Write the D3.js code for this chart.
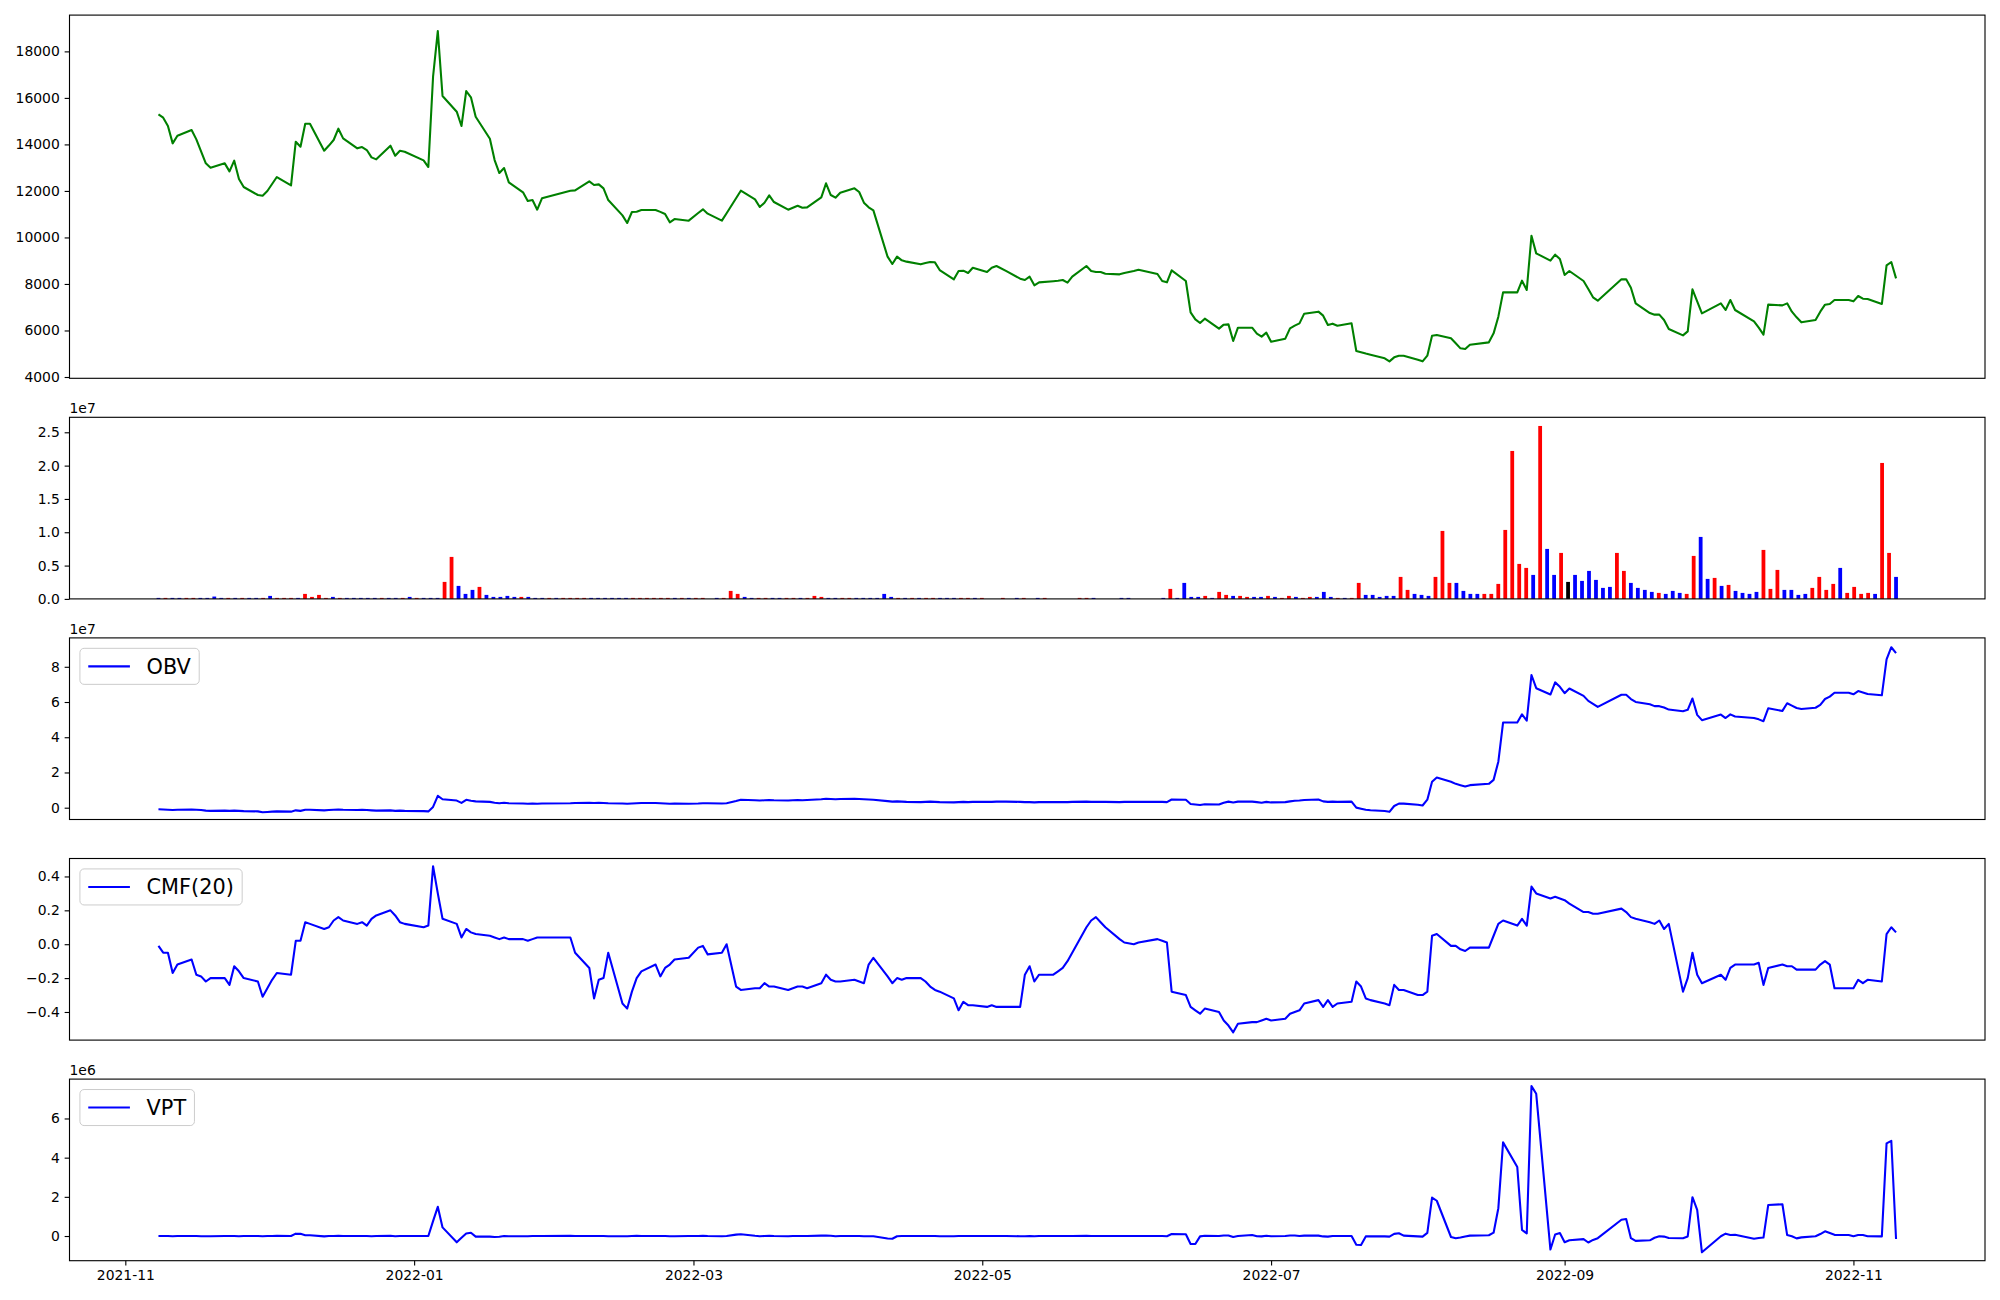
<!DOCTYPE html>
<html><head><meta charset="utf-8">
<script src="https://cdn.jsdelivr.net/npm/d3@7"></script>
<style>
body{margin:0;background:#fff}
svg{display:block}
text{font-family:"DejaVu Sans",sans-serif}
</style>
</head><body>
<svg id="chart" width="2000" height="1300"></svg>
<script>
// ---------------- DATA ----------------
const tradingStart = "2021-11-08";
const tradingEnd = "2022-11-10";
const holidays = ["2021-12-31","2022-01-31","2022-02-01","2022-02-02","2022-03-01","2022-03-09",
  "2022-05-05","2022-06-01","2022-06-06","2022-08-15","2022-09-09","2022-09-12","2022-10-03","2022-10-10"];

const xTickLabels = ["2021-11","2022-01","2022-03","2022-05","2022-07","2022-09","2022-11"];
const priceTicks = [4000,6000,8000,10000,12000,14000,16000,18000];
const volumeTicks = [0,0.5e7,1.0e7,1.5e7,2.0e7,2.5e7];
const obvTicks = [0,2e7,4e7,6e7,8e7];
const cmfTicks = [-0.4,-0.2,0.0,0.2,0.4];
const vptTicks = [0,2e6,4e6,6e6];

const close = [15292,15150,14790,14045,14375,14619,14217,13700,13186,12999,
13186,12842,13300,12512,12168,11824,11796,11996,12300,12598,
12240,14117,13902,14891,14891,13730,13950,14189,14676,14260,
13830,13888,13759,13443,13357,13945,13515,13730,13687,13314,
13028,16911,18874,16080,15407,14790,16295,16023,15192,14246,
13329,12770,12985,12369,11939,11566,11609,11194,11681,12010,
12025,12412,12254,12283,12111,11609,10950,10620,11093,11108,
11179,11179,11100,11007,10649,10792,10721,11050,11208,11022,
10721,11043,11688,12010,11637,11308,11494,11809,11523,11193,
11280,11366,11280,11294,11724,12326,11824,11709,11924,12111,
11953,11494,11294,11165,9173,8858,9173,9016,8960,8844,
8900,8944,8930,8600,8199,8557,8571,8471,8700,8514,
8700,8772,8560,8227,8170,8313,7941,8070,8120,8140,
8170,8056,8313,8772,8557,8514,8514,8442,8414,8470,
8560,8614,8428,8127,8070,8586,8127,6780,6479,6321,
6508,6078,6250,6264,5548,6121,6121,5863,5734,5906,
5519,5648,6092,6207,6307,6723,6809,6637,6235,6293,
6207,6307,5118,5065,5010,4960,4802,4673,4845,4917,
4917,4740,4673,4917,5777,5806,5662,5450,5232,5204,
5390,5490,5877,6594,7640,7640,8141,7740,10076,9316,
9001,9259,9073,8385,8557,8127,7780,7425,7282,8199,
8199,7840,7167,6750,6680,6680,6450,6064,5791,5963,
7769,7250,6737,7167,6880,7310,6880,6393,6121,5820,
7110,7081,7167,6809,6565,6350,6450,6809,7110,7138,
7310,7310,7253,7482,7368,7353,7138,8800,8944,8242];

const volume = [1.5e5,1.5e5,1.5e5,1.5e5,1.5e5,1.5e5,1.5e5,1.5e5,3.5e5,1.5e5,
1.5e5,1.5e5,1.5e5,1.5e5,1.5e5,1.5e5,4.5e5,1.5e5,1.5e5,1.5e5,
1.5e5,7.5e5,3e5,6e5,1.5e5,3e5,1.5e5,1.5e5,1.5e5,1.5e5,
1.5e5,1.5e5,1.5e5,1.5e5,1.5e5,1.5e5,3e5,1.5e5,1.5e5,1.5e5,
1.5e5,2.55e6,6.3e6,1.95e6,7.5e5,1.35e6,1.8e6,6e5,3e5,3e5,
4.5e5,3e5,3e5,3e5,1.5e5,1.5e5,1.5e5,1.5e5,1.5e5,1.5e5,
1.5e5,1.5e5,1.5e5,1.5e5,1.5e5,1.5e5,1.5e5,1.5e5,1.5e5,1.5e5,
1.5e5,1.5e5,1.5e5,1.5e5,1.5e5,1.5e5,1.5e5,1.5e5,1.5e5,0,
1.5e5,1.5e5,1.2e6,7.5e5,3e5,1.5e5,1.5e5,1.5e5,1.5e5,1.5e5,
1.5e5,1.5e5,1.5e5,1.5e5,4.5e5,3e5,1.5e5,1.5e5,1.5e5,1.5e5,
1.5e5,1.5e5,1.5e5,1.5e5,7.5e5,3e5,1.5e5,1.5e5,1.5e5,1.5e5,
1.5e5,1.5e5,1.5e5,1.5e5,1.5e5,1.5e5,1.5e5,1.5e5,1.5e5,0,
0,1.5e5,0,1.5e5,1.5e5,0,1.5e5,1.5e5,0,0,
0,0,1.5e5,1.5e5,1.5e5,0,0,0,1.5e5,1.5e5,
0,0,0,0,1.5e5,1.5e6,1.5e5,2.4e6,3e5,3e5,
4.5e5,1.5e5,1.05e6,6e5,4.5e5,4.5e5,3e5,3e5,3e5,4.5e5,
3e5,1.5e5,4.5e5,3e5,1.5e5,3e5,3e5,1.05e6,3e5,1.5e5,
1.5e5,1.5e5,2.4e6,6e5,6e5,3e5,4.5e5,4.5e5,3.3e6,1.35e6,
7.5e5,6e5,4.5e5,3.3e6,1.02e7,2.4e6,2.4e6,1.2e6,7.5e5,7.5e5,
7.5e5,7.5e5,2.25e6,1.035e7,2.22e7,5.25e6,4.65e6,3.6e6,2.595e7,7.5e6,
3.6e6,6.9e6,2.55e6,3.6e6,2.7e6,4.2e6,2.85e6,1.65e6,1.8e6,6.9e6,
4.2e6,2.4e6,1.65e6,1.35e6,1.05e6,9e5,7.5e5,1.2e6,9e5,7.5e5,
6.45e6,9.3e6,3e6,3.15e6,1.95e6,2.1e6,1.2e6,9e5,7.5e5,1.05e6,
7.35e6,1.5e6,4.35e6,1.35e6,1.35e6,6e5,7.5e5,1.65e6,3.3e6,1.35e6,
2.25e6,4.65e6,9e5,1.8e6,7.5e5,9e5,7.5e5,2.04e7,6.9e6,3.3e6];

// bar colour per day: r = red, b = blue, k = black
const barColorCodes =
 "brbbrrbbbb"+"rbrbbrbrrr"+"brrrrbrbbb"+"bbrbbrbrbb"+"brrbbbrbbb"+
 "bbrbbbrbrr"+"rrbbbbbbrr"+"rrrrbrbrrb"+"brrrbbrrbb"+"rrbrrrbbrr"+
 "bbbbbbrbrb"+"rrbbbrrbrb"+"brbbrbbrbb"+"bbrrbbbbbb"+"bbbbbrbbbb"+
 "rbrrbrrbbr"+"brrbrrbbbr"+"brrbbbbbrr"+"bbbrrrbbbb"+"rrrrrrrbrb"+
 "brkbbbbbbr"+"rbbbbrbbbr"+"rbbrbrbbbb"+"rrrbbbbrrr"+"rbrrrrbrrb";

const obv = [-0.085,-0.1,-0.115,-0.13,-0.115,-0.1,-0.115,-0.13,-0.165,-0.18,
-0.165,-0.18,-0.165,-0.18,-0.195,-0.21,-0.255,-0.24,-0.225,-0.21,
-0.225,-0.15,-0.18,-0.12,-0.12,-0.15,-0.135,-0.12,-0.105,-0.12,
-0.135,-0.12,-0.135,-0.15,-0.165,-0.15,-0.18,-0.165,-0.18,-0.195,
-0.21,0.045,0.675,0.48,0.405,0.27,0.45,0.39,0.36,0.33,
0.285,0.255,0.285,0.255,0.24,0.225,0.24,0.225,0.24,0.255,
0.27,0.285,0.27,0.285,0.27,0.255,0.24,0.225,0.24,0.255,
0.27,0.27,0.255,0.24,0.225,0.24,0.225,0.24,0.255,0.255,
0.24,0.255,0.375,0.45,0.42,0.405,0.42,0.435,0.42,0.405,
0.42,0.435,0.42,0.435,0.48,0.51,0.495,0.48,0.495,0.51,
0.495,0.48,0.465,0.45,0.375,0.345,0.36,0.345,0.33,0.315,
0.33,0.345,0.33,0.315,0.30,0.315,0.33,0.315,0.33,0.33,
0.33,0.345,0.345,0.33,0.315,0.315,0.30,0.315,0.315,0.315,
0.315,0.315,0.33,0.345,0.33,0.33,0.33,0.33,0.315,0.33,
0.33,0.33,0.33,0.33,0.315,0.465,0.45,0.21,0.18,0.15,
0.195,0.18,0.285,0.345,0.30,0.345,0.345,0.315,0.285,0.33,
0.30,0.315,0.36,0.39,0.405,0.435,0.465,0.36,0.33,0.345,
0.33,0.345,0.005,-0.055,-0.115,-0.145,-0.19,-0.235,0.095,0.23,
0.23,0.17,0.125,0.455,1.475,1.715,1.475,1.355,1.28,1.205,
1.28,1.355,1.58,2.615,4.835,4.835,5.30,4.94,7.535,6.785,
6.425,7.115,6.86,6.50,6.77,6.35,6.065,5.90,5.72,6.41,
6.41,6.17,6.005,5.87,5.765,5.765,5.69,5.57,5.48,5.555,
6.20,5.27,4.97,5.285,5.09,5.30,5.18,5.09,5.015,4.91,
5.645,5.495,5.93,5.795,5.66,5.60,5.675,5.84,6.17,6.305,
6.53,6.53,6.44,6.62,6.545,6.455,6.38,8.42,9.11,8.78]; // x 1e7

const cmf = [-0.01,-0.05,-0.05,-0.17,-0.12,-0.09,-0.18,-0.19,-0.22,-0.20,
-0.20,-0.24,-0.13,-0.16,-0.20,-0.22,-0.31,-0.26,-0.21,-0.17,
-0.18,0.02,0.02,0.13,0.12,0.09,0.10,0.14,0.16,0.14,
0.12,0.13,0.11,0.15,0.17,0.20,0.17,0.13,0.12,0.10,
0.11,0.46,0.30,0.15,0.12,0.04,0.09,0.07,0.06,0.05,
0.04,0.03,0.04,0.03,0.03,0.02,0.03,0.04,0.04,0.04,
-0.05,-0.14,-0.32,-0.21,-0.20,-0.05,-0.35,-0.38,-0.28,-0.20,
-0.16,-0.12,-0.19,-0.14,-0.12,-0.09,-0.08,-0.02,-0.01,-0.06,
-0.05,0.00,-0.25,-0.27,-0.26,-0.26,-0.23,-0.25,-0.25,-0.27,
-0.26,-0.25,-0.25,-0.26,-0.23,-0.18,-0.21,-0.22,-0.22,-0.21,
-0.22,-0.23,-0.12,-0.08,-0.19,-0.23,-0.20,-0.21,-0.20,-0.20,
-0.22,-0.25,-0.27,-0.28,-0.32,-0.39,-0.34,-0.36,-0.36,-0.37,
-0.36,-0.37,-0.37,-0.37,-0.18,-0.13,-0.22,-0.18,-0.18,-0.16,
-0.14,-0.10,-0.05,0.10,0.14,0.16,0.13,0.10,0.03,0.01,
0.00,0.01,0.03,0.02,0.01,-0.28,-0.30,-0.37,-0.39,-0.41,
-0.38,-0.40,-0.45,-0.48,-0.52,-0.47,-0.46,-0.46,-0.45,-0.44,
-0.45,-0.44,-0.41,-0.40,-0.39,-0.35,-0.33,-0.37,-0.33,-0.37,
-0.35,-0.34,-0.22,-0.25,-0.32,-0.33,-0.35,-0.36,-0.24,-0.27,
-0.27,-0.30,-0.30,-0.28,0.05,0.06,-0.01,-0.01,-0.03,-0.04,
-0.02,-0.02,0.05,0.12,0.14,0.11,0.15,0.11,0.34,0.30,
0.27,0.28,0.27,0.26,0.24,0.19,0.19,0.18,0.18,0.21,
0.19,0.16,0.15,0.13,0.12,0.14,0.09,0.12,-0.28,-0.20,
-0.05,-0.18,-0.23,-0.18,-0.21,-0.14,-0.12,-0.12,-0.11,-0.24,
-0.14,-0.12,-0.13,-0.13,-0.15,-0.15,-0.15,-0.12,-0.10,-0.12,
-0.26,-0.26,-0.26,-0.21,-0.23,-0.21,-0.22,0.06,0.10,0.07];

const vpt = [0,0,0,-0.01,0,0,0,-0.01,-0.01,-0.01,
0,0,0,-0.01,0,0,-0.01,0,0,0.01,
0,0.12,0.11,0.04,0.04,-0.02,0,0,0.01,0,
0,0,0,-0.01,0,0.01,-0.01,0,0,0,
0,0.76,1.49,0.44,-0.32,-0.09,0.13,0.17,-0.03,-0.03,
-0.05,-0.04,0,-0.01,-0.01,-0.01,0,0,0,0.01,
0,0,0,0,0,-0.01,-0.01,-0.01,0,0.01,
0,0,0,0,-0.01,-0.01,0,0,0.01,0,
-0.01,0,0.07,0.09,0.01,-0.01,0,0.01,0,-0.01,
0,0,0,0,0.02,0.03,0.01,-0.01,0,0,
0,-0.01,-0.01,-0.01,-0.13,-0.14,-0.01,0,0,0,
0,0,0,-0.01,-0.01,0,0,0,0,0,
0,0,0,-0.01,-0.01,0,-0.01,0,0,0,
0,0,0,0.01,0,0,0,0,0,0,
0,0,0,0,-0.01,0.10,0.09,-0.41,-0.41,-0.02,
0.01,0,0.03,0.03,-0.05,0,0.05,-0.01,-0.02,0.01,
-0.01,0,0.03,0.03,0,0.02,0.02,-0.02,-0.03,0,
0,0,-0.45,-0.46,-0.02,-0.01,-0.02,-0.03,0.11,0.14,
0.02,-0.02,-0.03,0.16,1.96,1.80,-0.05,-0.11,-0.08,-0.03,
0.02,0.04,0.17,1.42,4.78,3.52,0.31,0.13,7.65,7.26,
-0.69,0.08,0.15,-0.32,-0.22,-0.16,-0.33,-0.20,-0.11,0.83,
0.87,-0.11,-0.25,-0.22,-0.09,-0.01,-0.03,-0.10,-0.11,-0.02,
1.98,1.33,-0.83,-0.01,0.12,0.05,0.06,-0.14,-0.10,-0.08,
1.58,1.62,0.05,-0.01,-0.12,-0.07,-0.01,0.10,0.24,0.15,
0.06,0.05,-0.01,0.05,0.05,-0.01,-0.02,4.73,4.86,-0.15]; // x 1e6

// ---------------- DATES ----------------
const DAY = 864e5;
const holSet = new Set(holidays);
const dates = [];
for (let t = Date.parse(tradingStart + "T00:00:00Z"); t <= Date.parse(tradingEnd + "T00:00:00Z"); t += DAY) {
  const d = new Date(t), wd = d.getUTCDay();
  if (wd === 0 || wd === 6) continue;
  if (holSet.has(d.toISOString().slice(0, 10))) continue;
  dates.push(d);
}
const N = close.length;
const t0 = +dates[0], tN = +dates[N - 1];
const barTimes = volume.map((v, i) => t0 + i * (tN - t0) / (N - 1));

// ---------------- LAYOUT ----------------
const L = 69.5, R = 1985;
const panels = [[15.1, 378.3], [417.3, 598.9], [637.9, 819.5], [858.5, 1040.1], [1079.1, 1260.7]];
const PT = 100 / 72;
const svg = d3.select("#chart");

const lo = t0 - 0.4 * DAY, hi = tN + 0.4 * DAY, pad = 0.05 * (hi - lo);
const x = d3.scaleUtc().domain([new Date(lo - pad), new Date(hi + pad)]).range([L, R]);

const yP = d3.scaleLinear().domain([3944, 19560]).range([panels[0][1], panels[0][0]]);
const yV = d3.scaleLinear().domain([0, 2.725e7]).range([panels[1][1], panels[1][0]]);
const yO = d3.scaleLinear().domain([-0.67e7, 9.64e7]).range([panels[2][1], panels[2][0]]);
const yC = d3.scaleLinear().domain([-0.566, 0.506]).range([panels[3][1], panels[3][0]]);
const yT = d3.scaleLinear().domain([-1.26e6, 8.01e6]).range([panels[4][1], panels[4][0]]);

function yAxis(scale, ticks, fmt) {
  const g = svg.append("g").attr("transform", `translate(${L},0)`)
    .call(d3.axisLeft(scale).tickValues(ticks).tickFormat(fmt).tickSize(3.5 * PT).tickPadding(3.5 * PT));
  g.select(".domain").remove();
  g.selectAll("line").attr("stroke", "#000").attr("stroke-width", 0.8 * PT);
  g.selectAll("text").attr("font-size", "13.9px").attr("fill", "#000").attr("font-family", "DejaVu Sans");
}
function frame(p) {
  svg.append("rect").attr("x", L).attr("y", p[0]).attr("width", R - L).attr("height", p[1] - p[0])
    .attr("fill", "none").attr("stroke", "#000").attr("stroke-width", 0.8 * PT);
}
function offsetText(p, txt) {
  svg.append("text").attr("x", L).attr("y", p[0] - 4).attr("font-size", "13.9px").text(txt);
}
function legend(p, label) {
  const fs = 15 * PT;
  const bx = L + 0.5 * fs, by = p[0] + 0.5 * fs;
  const tmp = svg.append("text").attr("font-size", fs + "px").text(label);
  const tw = tmp.node().getComputedTextLength(); tmp.remove();
  const w = 0.4 * fs + 2.0 * fs + 0.8 * fs + tw + 0.4 * fs;
  const h = 0.4 * fs * 2 + fs * 0.93;
  svg.append("rect").attr("x", bx).attr("y", by).attr("width", w).attr("height", h)
    .attr("rx", 0.2 * fs).attr("fill", "#fff").attr("fill-opacity", 0.8)
    .attr("stroke", "#cccccc").attr("stroke-width", 1);
  const cy = by + h / 2;
  svg.append("line").attr("x1", bx + 0.4 * fs).attr("x2", bx + 2.4 * fs).attr("y1", cy).attr("y2", cy)
    .attr("stroke", "#0000ff").attr("stroke-width", 1.5 * PT);
  svg.append("text").attr("x", bx + 3.2 * fs).attr("y", cy).attr("dy", "0.36em")
    .attr("font-size", fs + "px").text(label);
}

// Panel 1: price
svg.append("path").datum(close)
  .attr("d", d3.line().x((d, i) => x(dates[i])).y(d => yP(d)))
  .attr("fill", "none").attr("stroke", "#008000").attr("stroke-width", 1.5 * PT).attr("stroke-linejoin", "round");
yAxis(yP, priceTicks, d => String(d));
frame(panels[0]);

// Panel 2: volume bars
const colorMap = { r: "#ff0000", b: "#0000ff", k: "#000000" };
const bw = x(new Date(t0 + 0.8 * DAY)) - x(new Date(t0));
svg.append("g").selectAll("rect").data(volume).join("rect")
  .attr("x", (d, i) => x(new Date(barTimes[i])) - bw / 2)
  .attr("width", bw)
  .attr("y", d => yV(d))
  .attr("height", d => yV(0) - yV(d))
  .attr("fill", (d, i) => colorMap[barColorCodes[i]]);
yAxis(yV, volumeTicks, d => (d / 1e7).toFixed(1));
frame(panels[1]);
offsetText(panels[1], "1e7");

// Panel 3: OBV
svg.append("path").datum(obv)
  .attr("d", d3.line().x((d, i) => x(dates[i])).y(d => yO(d * 1e7)))
  .attr("fill", "none").attr("stroke", "#0000ff").attr("stroke-width", 1.5 * PT).attr("stroke-linejoin", "round");
yAxis(yO, obvTicks, d => String(Math.round(d / 1e7)));
frame(panels[2]);
offsetText(panels[2], "1e7");
legend(panels[2], "OBV");

// Panel 4: CMF
svg.append("path").datum(cmf)
  .attr("d", d3.line().x((d, i) => x(dates[i])).y(d => yC(d)))
  .attr("fill", "none").attr("stroke", "#0000ff").attr("stroke-width", 1.5 * PT).attr("stroke-linejoin", "round");
yAxis(yC, cmfTicks, d => d3.format(".1f")(d).replace("-", "\u2212"));
frame(panels[3]);
legend(panels[3], "CMF(20)");

// Panel 5: VPT
svg.append("path").datum(vpt)
  .attr("d", d3.line().x((d, i) => x(dates[i])).y(d => yT(d * 1e6)))
  .attr("fill", "none").attr("stroke", "#0000ff").attr("stroke-width", 1.5 * PT).attr("stroke-linejoin", "round");
yAxis(yT, vptTicks, d => String(Math.round(d / 1e6)));
frame(panels[4]);
offsetText(panels[4], "1e6");
legend(panels[4], "VPT");

// x axis on bottom panel
const xTicks = xTickLabels.map(s => new Date(s + "-01T00:00:00Z"));
const gx = svg.append("g").attr("transform", `translate(0,${panels[4][1]})`)
  .call(d3.axisBottom(x).tickValues(xTicks).tickFormat((d, i) => xTickLabels[i]).tickSize(3.5 * PT).tickPadding(3.5 * PT));
gx.select(".domain").remove();
gx.selectAll("line").attr("stroke", "#000").attr("stroke-width", 0.8 * PT);
gx.selectAll("text").attr("font-size", "13.9px").attr("fill", "#000").attr("font-family", "DejaVu Sans");
</script>
</body></html>
